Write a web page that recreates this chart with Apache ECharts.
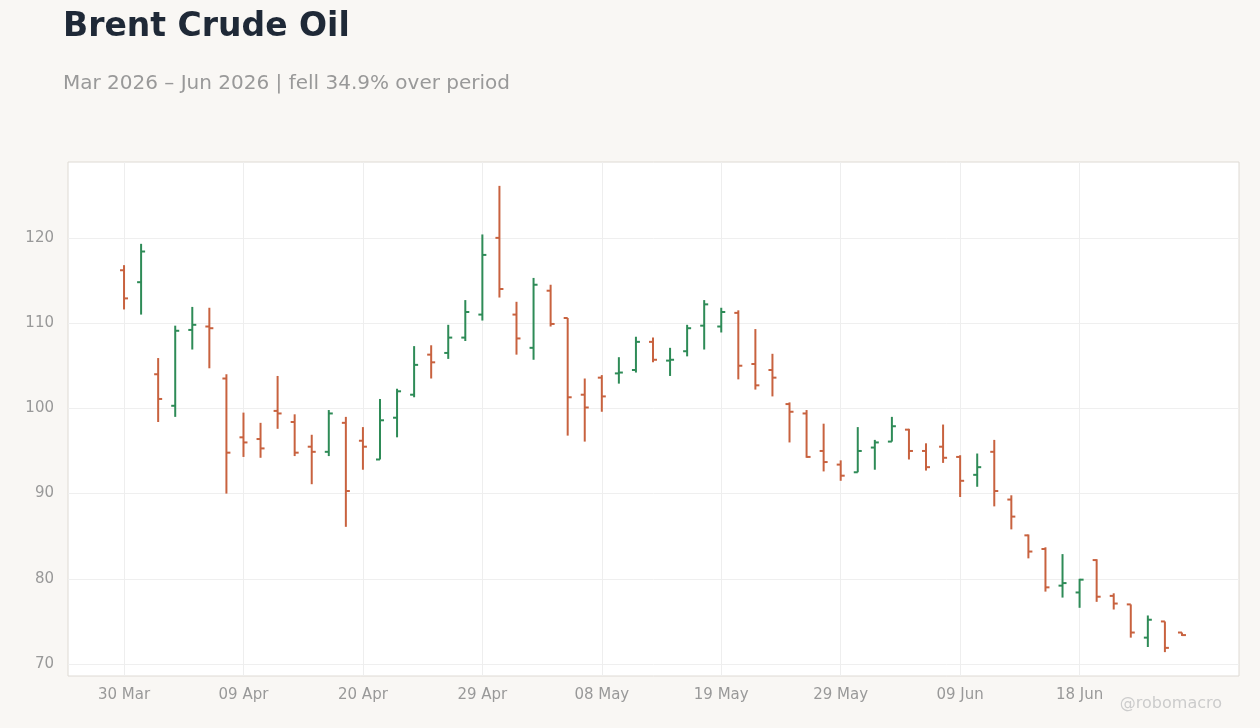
<!DOCTYPE html>
<html><head><meta charset="utf-8">
<script src="https://cdn.jsdelivr.net/npm/echarts@6/dist/echarts.min.js"></script>
<style>html,body{margin:0;padding:0;background:#f9f7f4;}#c{width:1260px;height:728px;}</style>
</head><body><div id="c"></div>
<script>
const opens  = [116.2,114.8,104.0,100.3,109.2,109.6,103.5,96.6,96.4,99.7,98.4,95.5,94.9,98.3,96.2,94.0,98.9,101.6,106.3,106.5,108.3,111.0,120.0,111.0,107.1,113.8,110.6,101.6,103.6,104.1,104.5,107.8,105.6,106.7,109.7,109.6,111.2,105.2,104.5,100.5,99.4,95.0,93.4,92.5,95.4,96.1,97.5,95.0,95.5,94.3,92.2,94.9,89.3,85.1,83.5,79.2,78.4,82.2,78.0,77.0,73.1,75.0,73.7];
const highs  = [116.8,119.3,105.9,109.7,111.9,111.8,104.0,99.5,98.3,103.8,99.3,96.9,99.8,99.0,97.8,101.1,102.3,107.3,107.4,109.8,112.7,120.4,126.1,112.5,115.3,114.5,110.6,103.5,103.9,106.0,108.4,108.3,107.1,109.8,112.7,111.8,111.5,109.3,106.4,100.7,99.8,98.2,93.9,97.8,96.3,99.0,97.6,95.9,98.1,94.5,94.7,96.3,89.8,85.2,83.7,82.9,80.0,82.3,78.3,77.0,75.7,75.0,73.7];
const lows   = [111.6,111.0,98.4,99.0,106.9,104.7,90.0,94.3,94.2,97.6,94.4,91.1,94.4,86.1,92.8,94.0,96.6,101.3,103.5,105.8,107.9,110.3,113.0,106.3,105.7,109.6,96.8,96.1,99.6,102.9,104.2,105.4,103.8,106.1,106.9,108.9,103.4,102.2,101.4,96.0,94.2,92.6,91.5,92.5,92.8,96.1,94.0,92.7,93.6,89.6,90.8,88.5,85.8,82.4,78.5,77.8,76.6,77.3,76.4,73.1,72.0,71.4,73.3];
const closes = [112.9,118.4,101.1,109.1,109.8,109.4,94.8,96.0,95.3,99.4,94.8,94.9,99.4,90.3,95.5,98.6,102.0,105.1,105.4,108.3,111.3,118.0,114.0,108.2,114.5,109.9,101.3,100.1,101.4,104.2,107.8,105.7,105.7,109.4,112.2,111.3,105.0,102.7,103.6,99.6,94.3,93.7,92.1,95.0,96.0,97.9,95.0,93.1,94.2,91.5,93.1,90.3,87.3,83.2,79.0,79.5,79.9,77.9,77.1,73.7,75.2,71.9,73.4];
const startDate = '2026-03-30';
const holidays = ['2026-04-03','2026-05-25','2026-06-19'];
const yTicks = [70,80,90,100,110,120];

const MONTHS=['Jan','Feb','Mar','Apr','May','Jun','Jul','Aug','Sep','Oct','Nov','Dec'];
const dates=[];
{ let d=new Date(startDate+'T00:00:00Z');
  while(dates.length<opens.length){
    const iso=d.toISOString().slice(0,10), wd=d.getUTCDay();
    if(wd!==0&&wd!==6&&!holidays.includes(iso)){
      dates.push(String(d.getUTCDate()).padStart(2,'0')+' '+MONTHS[d.getUTCMonth()]);
    }
    d=new Date(d.getTime()+86400000);
  }
}
const data=opens.map((o,i)=>[i,o,highs[i],lows[i],closes[i]]);
const labelIdx=dates.map((d,i)=>i).filter(i=>i%7===0);
const RED='#c8623f', GREEN='#2e8b57';
const YMIN=68.6, YMAX=128.9;
const chart=echarts.init(document.getElementById('c'));
chart.setOption({
  backgroundColor:'#f9f7f4',
  animation:false,
  textStyle:{fontFamily:'DejaVu Sans'},
  graphic:[
    {type:'text',left:63,top:11,style:{text:'Brent Crude Oil',font:'bold 33px DejaVu Sans',fill:'#1f2937'}},
    {type:'text',left:63,top:74,style:{text:'Mar 2026 – Jun 2026 | fell 34.9% over period',font:'20px DejaVu Sans',fill:'#999999'}},
    {type:'text',right:38,top:696,style:{text:'@robomacro',font:'16px DejaVu Sans',fill:'#cccccc'}}
  ],
  grid:[
    {left:68,right:21,top:162,bottom:52,show:true,backgroundColor:'#ffffff',borderColor:'#dedad4',borderWidth:1},
    {left:115.5,right:69.5,top:162,bottom:52}
  ],
  xAxis:[
    {gridIndex:0,type:'value',min:0,max:1,show:false},
    {gridIndex:1,type:'category',data:dates,boundaryGap:true,
     axisLine:{show:false},axisTick:{show:false},
     axisLabel:{interval:(i)=>i%7===0,color:'#999999',fontSize:15,margin:12},
     splitLine:{show:false}}
  ],
  yAxis:[
    {gridIndex:0,type:'value',min:YMIN,max:YMAX,
     axisLine:{show:false},axisTick:{show:false},
     axisLabel:{color:'#999999',fontSize:15,margin:14,showMinLabel:false,showMaxLabel:false,
       formatter:v=>yTicks.includes(Math.round(v))&&Math.abs(v-Math.round(v))<1e-6?String(v):''},
     splitLine:{lineStyle:{color:'#efefef'},showMinLine:false,showMaxLine:false}},
    {gridIndex:1,type:'value',min:YMIN,max:YMAX,show:false,splitLine:{show:false}}
  ],
  series:[{
    type:'custom',xAxisIndex:1,yAxisIndex:1,data:data,
    encode:{x:0,y:[1,2,3,4]},
    markLine:{silent:true,symbol:'none',label:{show:false},z:0,
      lineStyle:{color:'#eeeeee',type:'solid',width:1},
      data:labelIdx.map(i=>({xAxis:i}))},
    renderItem:function(params,api){
      const i=api.value(0);
      const o=api.coord([i,api.value(1)]),h=api.coord([i,api.value(2)]),
            l=api.coord([i,api.value(3)]),c=api.coord([i,api.value(4)]);
      const col=api.value(4)>=api.value(1)?GREEN:RED;
      const x=o[0], w=4, st={stroke:col,lineWidth:2};
      return {type:'group',children:[
        {type:'line',shape:{x1:x,y1:h[1],x2:x,y2:l[1]},style:st},
        {type:'line',shape:{x1:x-w,y1:o[1],x2:x,y2:o[1]},style:st},
        {type:'line',shape:{x1:x,y1:c[1],x2:x+w,y2:c[1]},style:st}
      ]};
    }
  }]
});
</script></body></html>
